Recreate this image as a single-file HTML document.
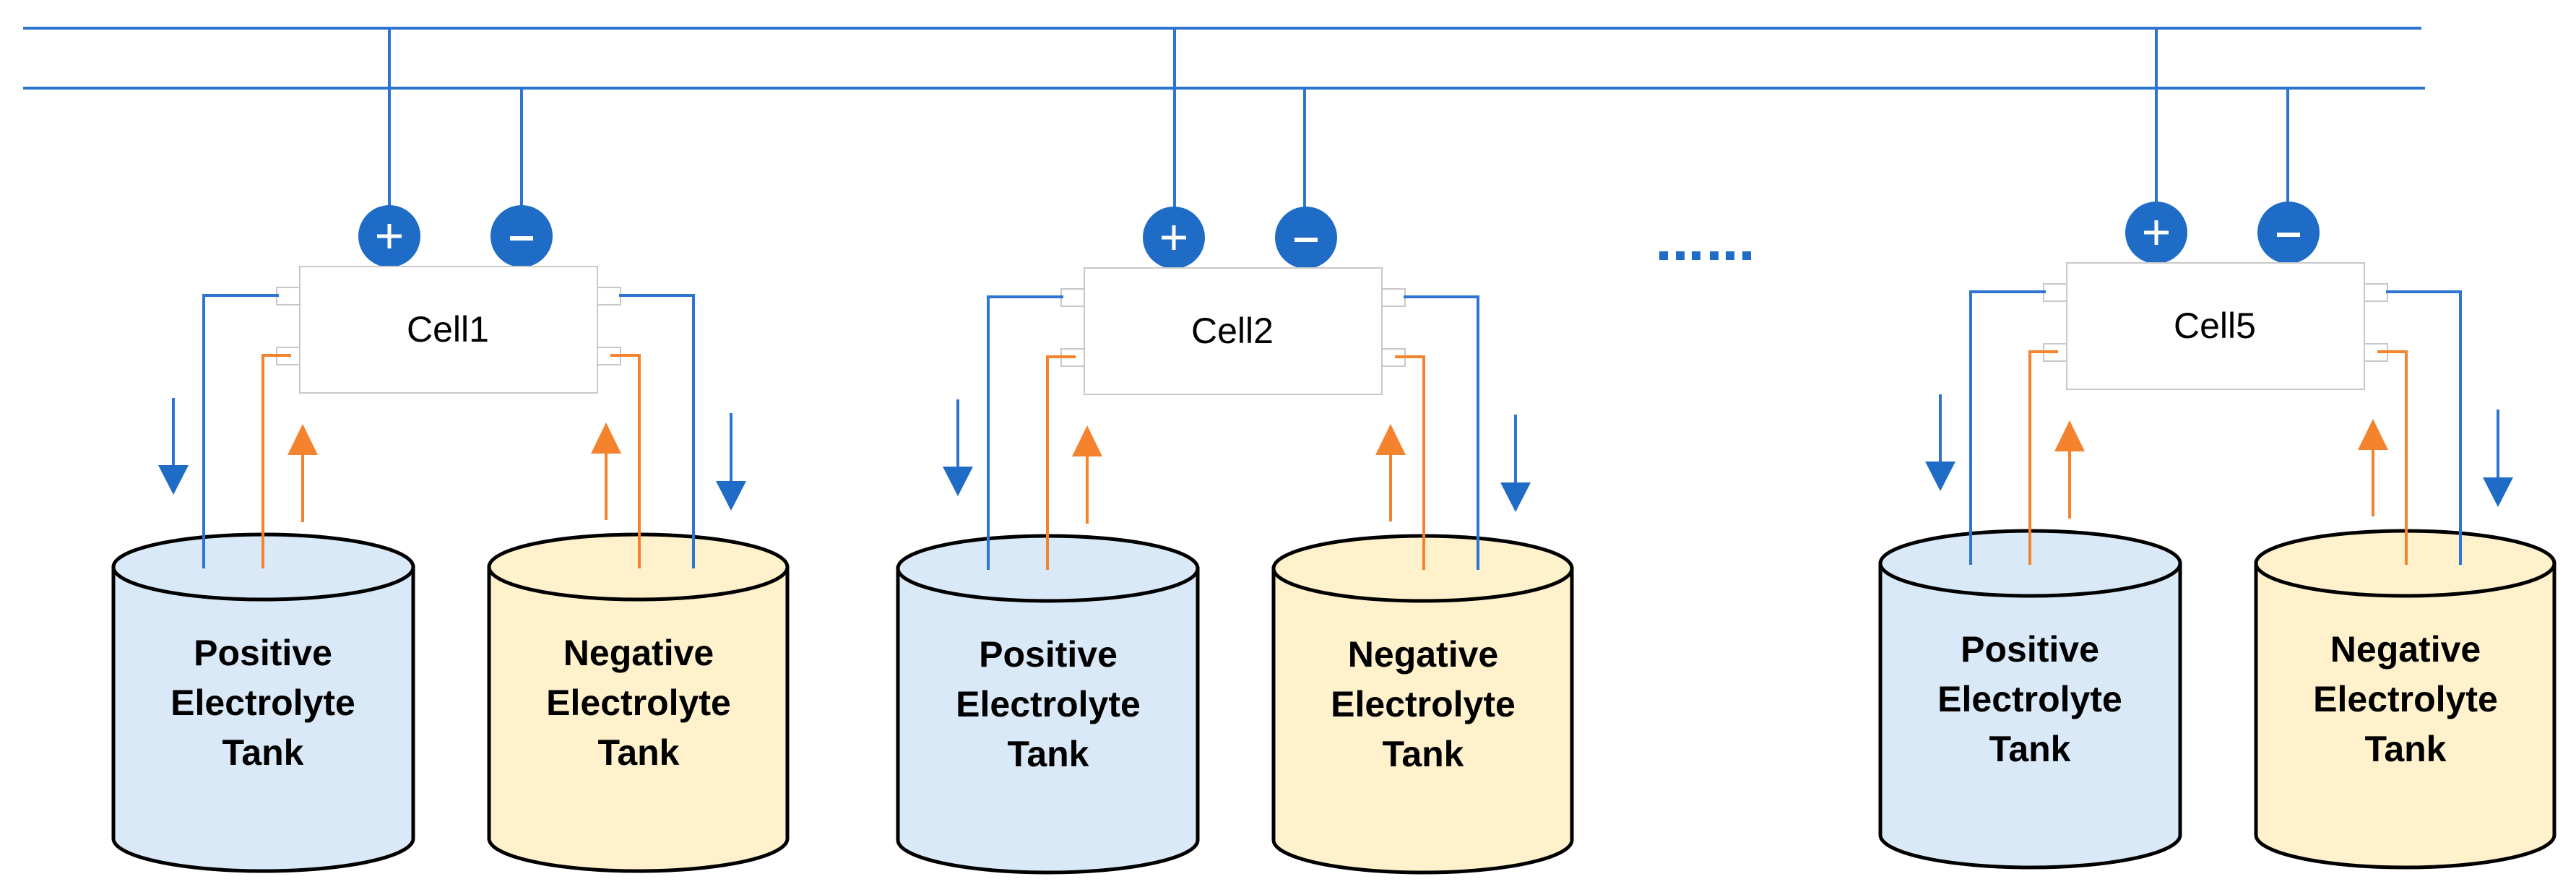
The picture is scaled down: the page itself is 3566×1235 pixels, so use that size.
<!DOCTYPE html>
<html><head><meta charset="utf-8"><style>
html,body{margin:0;padding:0;background:#fff;}
svg{display:block;}
.t{font-family:"Liberation Sans",sans-serif;font-weight:bold;font-size:50px;fill:#000;text-anchor:middle;}
.c{font-family:"Liberation Sans",sans-serif;font-size:50px;fill:#000;text-anchor:middle;}
</style></head><body>
<svg width="3566" height="1235" viewBox="0 0 3566 1235" xmlns="http://www.w3.org/2000/svg">
<defs>
<g id="grp">
  <!-- tanks -->
  <path d="M157,785 L157,1161 A207.5,45 0 0 0 572,1161 L572,785 Z" fill="#DAE9F7" stroke="#000" stroke-width="5"/>
  <ellipse cx="364.5" cy="785" rx="207.5" ry="45" fill="#DAE9F7" stroke="#000" stroke-width="5"/>
  <path d="M677,785 L677,1161 A206.5,45 0 0 0 1090,1161 L1090,785 Z" fill="#FFF1CC" stroke="#000" stroke-width="5"/>
  <ellipse cx="883.5" cy="785" rx="206.5" ry="45" fill="#FFF1CC" stroke="#000" stroke-width="5"/>
  <!-- circles -->
  <circle cx="539" cy="327" r="43" fill="#1F6CC6"/>
  <path d="M539,310 V344 M522,327 H556" stroke="#fff" stroke-width="5"/>
  <circle cx="722" cy="327" r="43" fill="#1F6CC6"/>
  <path d="M706,330 H738" stroke="#fff" stroke-width="6"/>
  <!-- cell -->
  <rect x="415" y="369" width="412" height="175" fill="#fff" stroke="#c8c8c8" stroke-width="2"/>
  <rect x="383" y="398" width="32" height="24" fill="#fff" stroke="#c8c8c8" stroke-width="2"/>
  <rect x="383" y="481" width="32" height="24" fill="#fff" stroke="#c8c8c8" stroke-width="2"/>
  <rect x="827" y="398" width="32" height="24" fill="#fff" stroke="#c8c8c8" stroke-width="2"/>
  <rect x="827" y="481" width="32" height="24" fill="#fff" stroke="#c8c8c8" stroke-width="2"/>
  <!-- pipes -->
  <polyline points="386,409 282,409 282,787" fill="none" stroke="#2E75D2" stroke-width="4"/>
  <polyline points="403,492 364,492 364,787" fill="none" stroke="#F5822D" stroke-width="4"/>
  <polyline points="845,492 885,492 885,787" fill="none" stroke="#F5822D" stroke-width="4"/>
  <polyline points="857,409 960,409 960,787" fill="none" stroke="#2E75D2" stroke-width="4"/>
  <!-- arrows -->
  <line x1="240" y1="551" x2="240" y2="650" stroke="#2E75D2" stroke-width="4"/>
  <polygon points="219,644 261,644 240,685" fill="#1F6CC6"/>
  <line x1="419" y1="723" x2="419" y2="625" stroke="#F5822D" stroke-width="4"/>
  <polygon points="398,630 440,630 419,587" fill="#F5822D"/>
  <line x1="839" y1="720" x2="839" y2="625" stroke="#F5822D" stroke-width="4"/>
  <polygon points="818,628 860,628 839,585" fill="#F5822D"/>
  <line x1="1012" y1="572" x2="1012" y2="670" stroke="#2E75D2" stroke-width="4"/>
  <polygon points="991,666 1033,666 1012,707" fill="#1F6CC6"/>
</g>
</defs>
<!-- bus -->
<line x1="32" y1="39" x2="3352" y2="39" stroke="#2E75D2" stroke-width="4"/>
<line x1="32" y1="122" x2="3357" y2="122" stroke="#2E75D2" stroke-width="4"/>
<!-- stems -->
<g stroke="#2E75D2" stroke-width="4">
<line x1="539" y1="39" x2="539" y2="290"/><line x1="722" y1="122" x2="722" y2="290"/>
<line x1="1626" y1="39" x2="1626" y2="292"/><line x1="1806" y1="122" x2="1806" y2="292"/>
<line x1="2985" y1="39" x2="2985" y2="285"/><line x1="3167" y1="122" x2="3167" y2="285"/>
</g>
<use href="#grp"/>
<g transform="translate(1086,2)"><use href="#grp"/></g>
<g transform="translate(2446,-5)"><use href="#grp"/></g>
<!-- labels -->
<text class="c" x="620" y="473">Cell1</text>
<text class="c" x="1706" y="475">Cell2</text>
<text class="c" x="3066" y="468">Cell5</text>
<g class="t">
<text x="364" y="921">Positive</text><text x="364" y="990">Electrolyte</text><text x="364" y="1059">Tank</text>
<text x="884" y="921">Negative</text><text x="884" y="990">Electrolyte</text><text x="884" y="1059">Tank</text>
<text x="1451" y="923">Positive</text><text x="1451" y="992">Electrolyte</text><text x="1451" y="1061">Tank</text>
<text x="1970" y="923">Negative</text><text x="1970" y="992">Electrolyte</text><text x="1970" y="1061">Tank</text>
<text x="2810" y="916">Positive</text><text x="2810" y="985">Electrolyte</text><text x="2810" y="1054">Tank</text>
<text x="3330" y="916">Negative</text><text x="3330" y="985">Electrolyte</text><text x="3330" y="1054">Tank</text>
</g>
<!-- dots -->
<g fill="#1F6CC6">
<rect x="2297" y="348" width="12" height="12"/><rect x="2320" y="348" width="12" height="12"/>
<rect x="2342" y="348" width="12" height="12"/><rect x="2367" y="348" width="12" height="12"/>
<rect x="2389" y="348" width="12" height="12"/><rect x="2412" y="348" width="12" height="12"/>
</g>
</svg>
</body></html>
